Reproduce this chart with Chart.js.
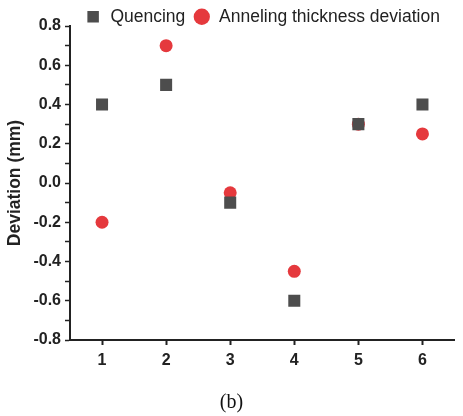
<!DOCTYPE html>
<html>
<head>
<meta charset="utf-8">
<script src="https://cdn.jsdelivr.net/npm/chart.js@4/dist/chart.umd.min.js"></script>
<style>
    html, body { margin: 0; padding: 0; background: #fff; }
    #wrap { position: relative; width: 463px; height: 416px; }
    #caption {
        position: absolute; left: 0; width: 463px; top: 390px;
        text-align: center; font-family: "Liberation Serif", serif; font-size: 20px; color: #111;
    }
</style>
</head>
<body>
<div id="wrap">
    <canvas id="chart" width="463" height="416"></canvas>
    <div id="caption">(b)</div>
</div>
<script>
// Data
const samples = [1, 2, 3, 4, 5, 6];
const quencing = [0.4, 0.5, -0.1, -0.6, 0.3, 0.4];
const anneling = [-0.2, 0.7, -0.05, -0.45, 0.3, 0.25];
const yTicks = [-0.8, -0.7, -0.6, -0.5, -0.4, -0.3, -0.2, -0.1, 0, 0.1, 0.2, 0.3, 0.4, 0.5, 0.6, 0.7, 0.8];
const yLabels = [-0.8, -0.6, -0.4, -0.2, 0, 0.2, 0.4, 0.6, 0.8];

const tickFont = { family: "'Liberation Sans', Arial, sans-serif", size: 16, weight: 'bold' };

const ctx = document.getElementById("chart").getContext("2d");
new Chart(ctx, {
    type: 'scatter',
    data: {
        datasets: [{
            label: 'Quencing',
            data: samples.map((x, i) => ({ x: x, y: quencing[i] })),
            pointStyle: 'rect',
            pointRadius: 8.5,
            pointHoverRadius: 8.5,
            backgroundColor: '#4d4d4d',
            borderColor: '#4d4d4d',
            borderWidth: 0
        }, {
            label: 'Anneling thickness deviation',
            data: samples.map((x, i) => ({ x: x, y: anneling[i] })),
            pointStyle: 'circle',
            pointRadius: 6.5,
            pointHoverRadius: 6.5,
            backgroundColor: '#e5393d',
            borderColor: '#e5393d',
            borderWidth: 0
        }]
    },
    options: {
        responsive: false,
        animation: false,
        layout: { padding: { left: 0, right: 5, top: 0, bottom: 36 } },
        plugins: {
            tooltip: { enabled: false },
            legend: {
                position: 'top',
                fullSize: false,
                maxHeight: 26,
                labels: {
                    usePointStyle: true,
                    boxWidth: 17,
                    boxHeight: 11.5,
                    padding: 8,
                    color: '#222',
                    font: { family: "'Liberation Sans', Arial, sans-serif", size: 17.5 }
                }
            }
        },
        scales: {
            x: {
                type: 'linear',
                min: 0.5,
                max: 6.5,
                afterBuildTicks: scale => { scale.ticks = samples.map(v => ({ value: v })); },
                afterFit: scale => { scale.height = 40; },
                border: { display: true, color: '#222', width: 2 },
                grid: { drawOnChartArea: false, drawTicks: true, tickLength: 5, tickColor: '#222', tickWidth: 2 },
                ticks: { color: '#222', font: tickFont, padding: 6 }
            },
            y: {
                type: 'linear',
                min: -0.8,
                max: 0.8,
                afterBuildTicks: scale => { scale.ticks = yTicks.map(v => ({ value: v })); },
                afterFit: scale => { scale.width = 70; },
                border: { display: true, color: '#222', width: 2 },
                grid: { drawOnChartArea: false, drawTicks: true, tickLength: 5, tickColor: '#222', tickWidth: 1.5 },
                ticks: {
                    color: '#222',
                    font: tickFont,
                    padding: 4,
                    autoSkip: false,
                    callback: function (value) {
                        const show = yLabels.some(v => Math.abs(v - value) < 1e-6);
                        return show ? value.toFixed(1) : '';
                    }
                },
                title: {
                    display: true,
                    text: 'Deviation (mm)',
                    color: '#222',
                    font: { family: "'Liberation Sans', Arial, sans-serif", size: 17.5, weight: 'bold' },
                    padding: { top: 5, bottom: 0 }
                }
            }
        }
    }
});
</script>
</body>
</html>
